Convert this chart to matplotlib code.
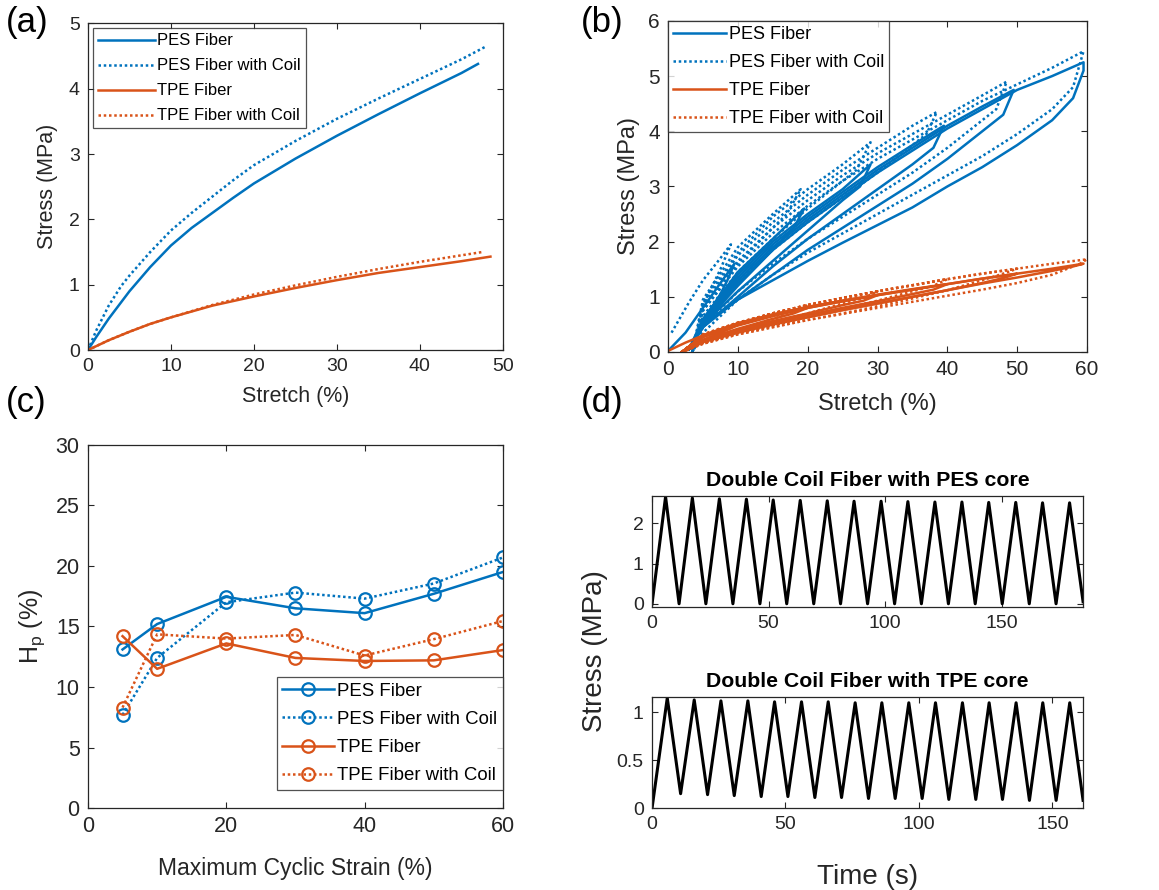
import numpy as np
import matplotlib.pyplot as plt

plt.rcParams['font.family'] = ['Liberation Sans', 'DejaVu Sans']
plt.rcParams['mathtext.default'] = 'regular'

BLUE = '#0072BD'
ORANGE = '#D95319'
GREY = '#262626'
DOT = (0, (1, 1.1))

# ---- (a) monotonic stretch ----
a_pes_x = [0, 1, 2.5, 5, 7.5, 10, 12.5, 15, 17.5, 20, 25, 30, 35, 40, 45, 47]
a_pes_y = [0, 0.2, 0.48, 0.9, 1.27, 1.6, 1.87, 2.1, 2.33, 2.55, 2.93, 3.28, 3.61, 3.93, 4.24, 4.38]
a_pesc_x = [0, 1, 2.5, 4, 5, 7.5, 10, 12.5, 15, 17.5, 20, 25, 30, 35, 40, 45, 48]
a_pesc_y = [0, 0.3, 0.68, 0.98, 1.14, 1.5, 1.83, 2.1, 2.35, 2.6, 2.83, 3.2, 3.54, 3.85, 4.15, 4.45, 4.65]
a_tpe_x = [0, 2.5, 5, 7.5, 10, 15, 20, 25, 30, 35, 40, 45, 48.5]
a_tpe_y = [0, 0.15, 0.28, 0.4, 0.5, 0.68, 0.82, 0.95, 1.07, 1.18, 1.27, 1.36, 1.43]
a_tpec_x = [0, 2.5, 5, 7.5, 10, 15, 20, 25, 30, 35, 40, 45, 47.5]
a_tpec_y = [0, 0.15, 0.28, 0.4, 0.5, 0.69, 0.85, 0.99, 1.12, 1.24, 1.35, 1.45, 1.5]

# ---- (b) cyclic loops, one loop per maximum strain ----
b_pes_x = [
    [0, 2.5, 5, 7.5, 9.5, 8.5, 7.5, 5, 3],
    [3, 5, 10, 15, 19.5, 18, 15, 10, 5, 3],
    [3, 5, 10, 15, 20, 25, 29, 27.5, 25, 20, 15, 10, 5, 3],
    [3, 5, 10, 15, 20, 25, 30, 35, 39.5, 38, 35, 30, 25, 20, 15, 10, 5, 3],
    [3, 5, 10, 15, 20, 25, 30, 35, 40, 45, 49.5, 48, 45, 40, 35, 30, 25, 20, 15, 10, 5, 3],
    [3, 5, 10, 15, 20, 25, 30, 35, 40, 45, 50, 55, 59.5, 59.5, 58, 55, 50, 45, 40, 35, 30, 25, 20, 15, 10, 5, 3],
]
b_pes_y = [
    [0.02, 0.35, 0.8, 1.25, 1.6, 1.3, 1.05, 0.55, 0.05],
    [0.05, 0.6, 1.45, 2.05, 2.6, 2.25, 1.85, 1.2, 0.5, 0.05],
    [0.05, 0.55, 1.4, 2.0, 2.5, 2.95, 3.4, 3.0, 2.75, 2.2, 1.65, 1.1, 0.5, 0.05],
    [0.05, 0.5, 1.35, 1.95, 2.45, 2.9, 3.35, 3.75, 4.1, 3.7, 3.4, 2.95, 2.5, 2.05, 1.55, 1.0, 0.45, 0.05],
    [0.05, 0.5, 1.3, 1.9, 2.4, 2.85, 3.3, 3.7, 4.1, 4.45, 4.75, 4.3, 4.0, 3.5, 3.05, 2.65, 2.25, 1.85, 1.4, 0.95, 0.45, 0.05],
    [0.05, 0.45, 1.25, 1.85, 2.35, 2.8, 3.25, 3.65, 4.05, 4.4, 4.75, 5.0, 5.25, 5.1, 4.6, 4.2, 3.75, 3.35, 3.0, 2.62, 2.3, 1.98, 1.65, 1.3, 0.95, 0.5, 0.05],
]
b_pesc_x = [
    [0.5, 3, 5, 7.5, 9, 7.5, 5, 3.5],
    [3.5, 5, 10, 15, 19, 17, 15, 10, 5, 3.5],
    [3.5, 5, 10, 15, 20, 25, 29, 27, 25, 20, 15, 10, 5, 3.5],
    [3.5, 5, 10, 15, 20, 25, 30, 35, 38.5, 37, 35, 30, 25, 20, 15, 10, 5, 3.5],
    [3.5, 5, 10, 15, 20, 25, 30, 35, 40, 45, 48.5, 47, 45, 40, 35, 30, 25, 20, 15, 10, 5, 3.5],
    [3.5, 5, 10, 15, 20, 25, 30, 35, 40, 45, 50, 55, 59.5, 58, 55, 50, 45, 40, 35, 30, 25, 20, 15, 10, 5, 3.5],
]
b_pesc_y = [
    [0.35, 0.9, 1.3, 1.7, 1.95, 1.5, 0.85, 0.0],
    [0.0, 0.95, 1.9, 2.5, 2.95, 2.5, 2.25, 1.6, 0.75, 0.0],
    [0.0, 0.9, 1.8, 2.45, 2.95, 3.4, 3.8, 3.3, 3.1, 2.6, 2.05, 1.45, 0.65, 0.0],
    [0.0, 0.85, 1.75, 2.35, 2.85, 3.3, 3.7, 4.1, 4.35, 3.95, 3.75, 3.25, 2.8, 2.35, 1.85, 1.3, 0.55, 0.0],
    [0.0, 0.8, 1.65, 2.25, 2.75, 3.2, 3.6, 3.95, 4.3, 4.65, 4.9, 4.4, 4.2, 3.7, 3.25, 2.85, 2.45, 2.05, 1.6, 1.1, 0.45, 0.0],
    [0.0, 0.75, 1.55, 2.15, 2.65, 3.1, 3.5, 3.85, 4.2, 4.55, 4.85, 5.15, 5.45, 4.8, 4.4, 3.95, 3.55, 3.2, 2.85, 2.5, 2.15, 1.8, 1.4, 0.95, 0.35, 0.0],
]
b_tpe_x = [
    [0, 2.5, 5, 7.5, 10, 9, 7.5, 5, 2],
    [2, 5, 10, 15, 20, 18, 15, 10, 5, 2],
    [2, 5, 10, 15, 20, 25, 30, 28, 25, 20, 15, 10, 5, 2],
    [2, 5, 10, 15, 20, 25, 30, 35, 40, 38, 35, 30, 25, 20, 15, 10, 5, 2],
    [2, 5, 10, 15, 20, 25, 30, 35, 40, 45, 50, 48, 45, 40, 35, 30, 25, 20, 15, 10, 5, 2],
    [2, 5, 10, 15, 20, 25, 30, 35, 40, 45, 50, 55, 59.5, 58, 55, 50, 45, 40, 35, 30, 25, 20, 15, 10, 5, 2],
]
b_tpe_y = [
    [0.02, 0.17, 0.3, 0.4, 0.5, 0.43, 0.35, 0.22, 0.0],
    [0.0, 0.3, 0.52, 0.68, 0.8, 0.7, 0.6, 0.42, 0.22, 0.0],
    [0.0, 0.3, 0.52, 0.68, 0.82, 0.93, 1.03, 0.93, 0.85, 0.7, 0.56, 0.4, 0.2, 0.0],
    [0.0, 0.28, 0.5, 0.67, 0.81, 0.93, 1.04, 1.14, 1.23, 1.13, 1.05, 0.92, 0.8, 0.67, 0.53, 0.38, 0.2, 0.0],
    [0.0, 0.28, 0.49, 0.66, 0.8, 0.92, 1.03, 1.13, 1.23, 1.33, 1.42, 1.34, 1.25, 1.12, 1.0, 0.88, 0.76, 0.63, 0.5, 0.36, 0.19, 0.0],
    [0.0, 0.27, 0.48, 0.65, 0.8, 0.92, 1.03, 1.13, 1.23, 1.33, 1.42, 1.51, 1.6, 1.55, 1.47, 1.35, 1.24, 1.12, 1.0, 0.88, 0.76, 0.63, 0.5, 0.35, 0.18, 0.0],
]
b_tpec_x = [
    [2, 5, 7.5, 10, 9, 7.5, 5, 2],
    [2, 5, 10, 15, 20, 18, 15, 10, 5, 2],
    [2, 5, 10, 15, 20, 25, 30, 28, 25, 20, 15, 10, 5, 2],
    [2, 5, 10, 15, 20, 25, 30, 35, 40, 38, 35, 30, 25, 20, 15, 10, 5, 2],
    [2, 5, 10, 15, 20, 25, 30, 35, 40, 45, 50, 48, 45, 40, 35, 30, 25, 20, 15, 10, 5, 2],
    [2, 5, 10, 15, 20, 25, 30, 35, 40, 45, 50, 55, 60, 59, 55, 50, 45, 40, 35, 30, 25, 20, 15, 10, 5, 2],
]
b_tpec_y = [
    [0.0, 0.32, 0.43, 0.53, 0.45, 0.36, 0.2, 0.0],
    [0.0, 0.31, 0.53, 0.7, 0.85, 0.72, 0.6, 0.4, 0.19, 0.0],
    [0.0, 0.31, 0.53, 0.7, 0.85, 0.98, 1.1, 0.98, 0.88, 0.7, 0.54, 0.37, 0.17, 0.0],
    [0.0, 0.3, 0.52, 0.7, 0.85, 0.98, 1.1, 1.21, 1.32, 1.2, 1.1, 0.93, 0.78, 0.63, 0.48, 0.34, 0.16, 0.0],
    [0.0, 0.3, 0.52, 0.7, 0.85, 0.98, 1.1, 1.21, 1.32, 1.42, 1.51, 1.42, 1.3, 1.12, 0.97, 0.83, 0.7, 0.58, 0.45, 0.32, 0.15, 0.0],
    [0.0, 0.3, 0.52, 0.7, 0.85, 0.98, 1.1, 1.21, 1.32, 1.42, 1.51, 1.6, 1.68, 1.6, 1.4, 1.25, 1.13, 1.02, 0.91, 0.8, 0.69, 0.58, 0.45, 0.32, 0.15, 0.0],
]

# ---- (c) hysteresis vs maximum cyclic strain ----
c_strain = [5, 10, 20, 30, 40, 50, 60]
c_pes = [13.1, 15.2, 17.45, 16.5, 16.1, 17.7, 19.5]
c_pesc = [7.7, 12.4, 17.0, 17.8, 17.3, 18.55, 20.7]
c_tpe = [14.2, 11.5, 13.6, 12.4, 12.15, 12.2, 13.05]
c_tpec = [8.3, 14.35, 14.0, 14.3, 12.6, 13.95, 15.45]

# ---- (d) cyclic stress over time ----
d_pes_t = [0, 5.8, 11.6, 17.3, 23.1, 28.9, 34.7, 40.5, 46.3, 52.0, 57.8, 63.6, 69.4,
           75.2, 80.9, 86.7, 92.5, 98.3, 104.1, 109.8, 115.6, 121.4, 127.2, 133.0,
           138.7, 144.5, 150.3, 156.1, 161.9, 167.6, 173.4, 179.2, 185.0]
d_pes_s = [0, 2.66, 0.0, 2.63, 0.0, 2.61, 0.0, 2.6, 0.0, 2.58, 0.0, 2.57, 0.0, 2.56,
           0.0, 2.55, 0.0, 2.55, 0.0, 2.54, 0.0, 2.53, 0.0, 2.53, 0.0, 2.52, 0.0, 2.52,
           0.0, 2.51, 0.0, 2.51, 0.05]
d_tpe_t = [0, 5.7, 10.7, 15.8, 20.8, 25.8, 30.8, 35.9, 40.9, 45.9, 50.9, 56.0, 61.0,
           66.0, 71.0, 76.1, 81.1, 86.1, 91.1, 96.2, 101.2, 106.2, 111.2, 116.3, 121.3,
           126.3, 131.3, 136.4, 141.4, 146.4, 151.4, 156.5, 161.5]
d_tpe_s = [0.0, 1.15, 0.15, 1.13, 0.14, 1.12, 0.13, 1.12, 0.12, 1.11, 0.12, 1.11, 0.11,
           1.11, 0.11, 1.10, 0.10, 1.10, 0.10, 1.10, 0.10, 1.10, 0.09, 1.10, 0.09, 1.10,
           0.09, 1.10, 0.08, 1.10, 0.08, 1.10, 0.08]

labels = ['PES Fiber', 'PES Fiber with Coil', 'TPE Fiber', 'TPE Fiber with Coil']


def matlab_axes(ax, fs):
    for s in ax.spines.values():
        s.set_color(GREY)
        s.set_linewidth(0.9)
    ax.tick_params(direction='in', top=True, right=True, length=4.5, width=0.8,
                   colors=GREY, labelsize=fs, labelcolor=GREY, pad=6)


def legend(ax, fs, **kw):
    leg = ax.legend(fontsize=fs, frameon=True, fancybox=False, edgecolor=GREY,
                    labelspacing=0.6, handletextpad=0.15, borderpad=0.3, **kw)
    leg.get_frame().set_linewidth(0.9)
    return leg


fig = plt.figure(figsize=(11.59, 8.90), dpi=100)

# (a)
ax = fig.add_axes([0.0759, 0.6067, 0.358, 0.367])
ax.plot(a_pes_x, a_pes_y, color=BLUE, lw=1.8, label=labels[0])
ax.plot(a_pesc_x, a_pesc_y, color=BLUE, lw=1.8, ls=DOT, label=labels[1])
ax.plot(a_tpe_x, a_tpe_y, color=ORANGE, lw=1.8, label=labels[2])
ax.plot(a_tpec_x, a_tpec_y, color=ORANGE, lw=1.8, ls=DOT, label=labels[3])
ax.set_xlim(0, 50)
ax.set_ylim(0, 5)
matlab_axes(ax, 14)
ax.set_xlabel('Stretch (%)', fontsize=15.5, color=GREY, labelpad=8)
ax.set_ylabel('Stress (MPa)', fontsize=15.5, color=GREY, labelpad=8)
legend(ax, 12, loc='upper left', handlelength=3.4, borderaxespad=0.3)

# (b)
ax = fig.add_axes([0.5764, 0.6045, 0.3615, 0.372])
for i in range(len(b_pes_x)):
    ax.plot(b_pes_x[i], b_pes_y[i], color=BLUE, lw=1.8, label=labels[0] if i == 0 else None)
for i in range(len(b_pesc_x)):
    ax.plot(b_pesc_x[i], b_pesc_y[i], color=BLUE, lw=1.8, ls=DOT, label=labels[1] if i == 0 else None)
for i in range(len(b_tpe_x)):
    ax.plot(b_tpe_x[i], b_tpe_y[i], color=ORANGE, lw=1.8, label=labels[2] if i == 0 else None)
for i in range(len(b_tpec_x)):
    ax.plot(b_tpec_x[i], b_tpec_y[i], color=ORANGE, lw=1.8, ls=DOT, label=labels[3] if i == 0 else None)
ax.set_xlim(0, 60)
ax.set_ylim(0, 6)
matlab_axes(ax, 15)
ax.set_xlabel('Stretch (%)', fontsize=17, color=GREY, labelpad=10)
ax.set_ylabel('Stress (MPa)', fontsize=17, color=GREY, labelpad=6)
legend(ax, 13, loc='upper left', handlelength=2.9, borderaxespad=0.0)

# (c)
ax = fig.add_axes([0.0759, 0.0921, 0.358, 0.408])
mk = dict(marker='o', ms=9, mfc='none', mew=1.6, lw=1.8)
ax.plot(c_strain, c_pes, color=BLUE, label=labels[0], **mk)
ax.plot(c_strain, c_pesc, color=BLUE, ls=DOT, label=labels[1], **mk)
ax.plot(c_strain, c_tpe, color=ORANGE, label=labels[2], **mk)
ax.plot(c_strain, c_tpec, color=ORANGE, ls=DOT, label=labels[3], **mk)
ax.set_xlim(0, 60)
ax.set_ylim(0, 30)
ax.set_xticks([0, 20, 40, 60])
ax.set_yticks(np.arange(0, 31, 5))
matlab_axes(ax, 15.5)
ax.set_xlabel('Maximum Cyclic Strain (%)', fontsize=16.5, color=GREY, labelpad=14)
ax.set_ylabel('H$_{p}$ (%)', fontsize=18, color=GREY, labelpad=6)
legend(ax, 13.4, loc='lower right', bbox_to_anchor=(1.0, 0.05), handlelength=2.8,
       borderaxespad=0.0)

# (d)
ax1 = fig.add_axes([0.5626, 0.318, 0.3719, 0.1247])
ax1.plot(d_pes_t, d_pes_s, color='black', lw=2.2)
ax1.set_xlim(0, 185)
ax1.set_ylim(-0.08, 2.68)
ax1.set_xticks([0, 50, 100, 150])
ax1.set_yticks([0, 1, 2])
matlab_axes(ax1, 14)
ax1.set_title('Double Coil Fiber with PES core', fontsize=15.3, fontweight='bold', pad=7)

ax2 = fig.add_axes([0.5626, 0.0921, 0.3719, 0.1247])
ax2.plot(d_tpe_t, d_tpe_s, color='black', lw=2.2)
ax2.set_xlim(0, 161.5)
ax2.set_ylim(0, 1.16)
ax2.set_xticks([0, 50, 100, 150])
ax2.set_yticks([0, 0.5, 1])
ax2.set_yticklabels(['0', '0.5', '1'])
matlab_axes(ax2, 14)
ax2.set_title('Double Coil Fiber with TPE core', fontsize=15.3, fontweight='bold', pad=7)
ax2.set_xlabel('Time (s)', fontsize=20, color=GREY, labelpad=22)
fig.text(0.513, 0.268, 'Stress (MPa)', fontsize=20, color=GREY, rotation=90,
         ha='center', va='center')

# panel letters
for x, y, t in [(0.005, 0.975, '(a)'), (0.501, 0.975, '(b)'),
                (0.005, 0.548, '(c)'), (0.501, 0.548, '(d)')]:
    fig.text(x, y, t, fontsize=25, ha='left', va='center')

fig.savefig('out.png', dpi=100)
